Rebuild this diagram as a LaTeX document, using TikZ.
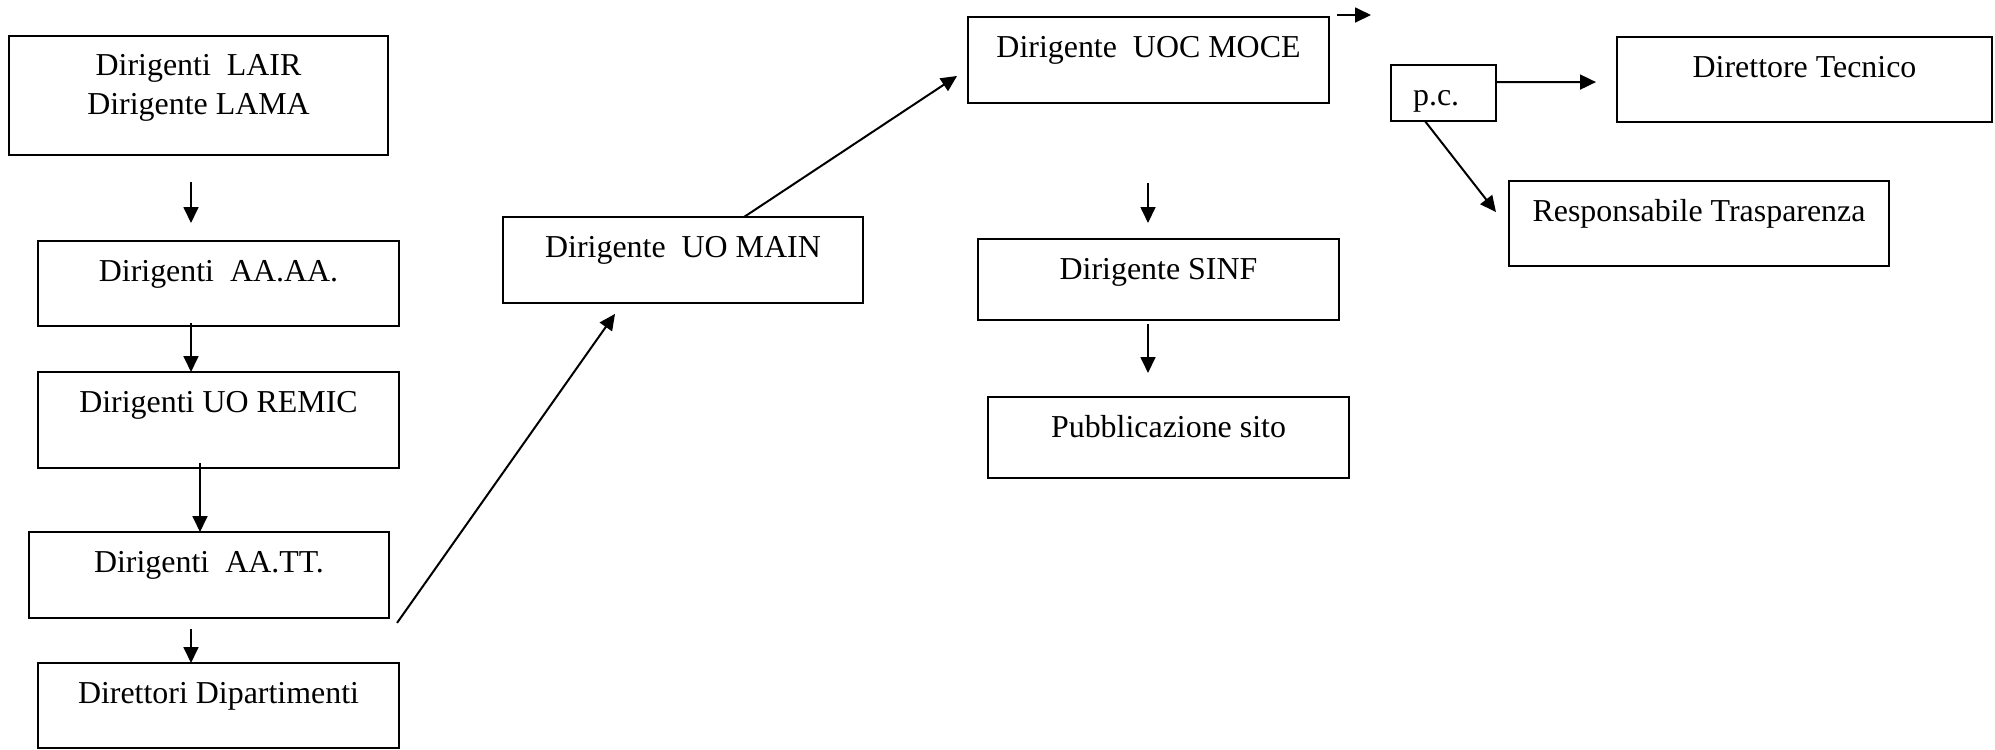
\documentclass[tikz,border=0pt]{standalone}
\usepackage{fontspec}
\setmainfont{Liberation Serif}
\usetikzlibrary{arrows.meta}
\begin{document}
\begin{tikzpicture}[>={Triangle[length=6pt,width=5.6pt]}, color=black, line width=0.75pt, x=0.376pt, y=-0.376pt,
	box/.style={draw, inner sep=0pt, outer sep=0pt, anchor=north, align=center, minimum width=135.7pt, text height=15.2pt, text depth=17pt, font=\fontsize{12pt}{14.7pt}\selectfont}]
		\useasboundingbox (0,0) rectangle (1995,749);
		\node[box, minimum width=142.5pt, text height=29.4pt, text depth=15.3pt] (lair) at (198.5,36) {Dirigenti\ \ LAIR\\Dirigente LAMA};
		\node[box, text depth=16.8pt] (aaaa) at (218.5,241) {Dirigenti\ \ AA.AA.};
		\node[box, text depth=20.9pt] (remic) at (218.5,372) {Dirigenti UO REMIC};
		\node[box, minimum width=135.4pt, text depth=17.1pt] (aatt) at (209,532) {Dirigenti\ \ AA.TT.};
		\node[box, text depth=16.8pt] (dip) at (218.5,663) {Direttori Dipartimenti};
		\node[box, minimum width=135.4pt, text depth=17.1pt] (main) at (683,217) {Dirigente\ \ UO MAIN};
		\node[box, text depth=17.1pt] (moce) at (1148.5,17) {Dirigente\ \ UOC MOCE};
		\node[box, text depth=15.3pt] (sinf) at (1158.5,239) {Dirigente SINF};
		\node[box, text depth=15.3pt] (pubb) at (1168.5,397) {Pubblicazione sito};
		\node[box, align=left, inner xsep=8.3pt, text width=22.9pt, minimum width=39.5pt, text depth=5.9pt] (pc) at (1443.5,65) {p.c.};
		\node[box, minimum width=141pt, text depth=16.8pt] (dt) at (1804.5,37) {Direttore Tecnico};
		\node[box, minimum width=142.9pt, text depth=16.8pt] (rt) at (1699,181) {Responsabile Trasparenza};
		\coordinate (out) at (1371,15);
		\draw[->] ([shift={(-7.5,27)}]lair.south) -- ([shift={(-27.5,-18)}]aaaa.north);
		\draw[->] ([shift={(-27.5,-3)}]aaaa.south) -- ([shift={(-27.5,0)}]remic.north);
		\draw[->] ([shift={(-18.5,-5)}]remic.south) -- ([shift={(-9,0)}]aatt.north);
		\draw[->] ([shift={(-18,11)}]aatt.south) -- ([shift={(-27.5,0)}]dip.north);
		\draw[->] ([shift={(8,5)}]aatt.south east) -- ([shift={(-68,11)}]main.south);
		\draw[->] ([shift={(61,0)}]main.north) -- ([shift={(-11,16)}]moce.west);
		\draw[->] ([shift={(8,-2)}]moce.north east) -- (out);
		\draw[->] ([shift={(-0.5,80)}]moce.south) -- ([shift={(-10.5,-16)}]sinf.north);
		\draw[->] ([shift={(-10.5,4)}]sinf.south) -- ([shift={(-20.5,-24)}]pubb.north);
		\draw[->] ([shift={(0,-11)}]pc.east) -- ([shift={(-21,2.5)}]dt.west);
		\draw[->] ([shift={(-18.5,0)}]pc.south) -- ([shift={(-13,-11.5)}]rt.west);
\end{tikzpicture}
\end{document}
